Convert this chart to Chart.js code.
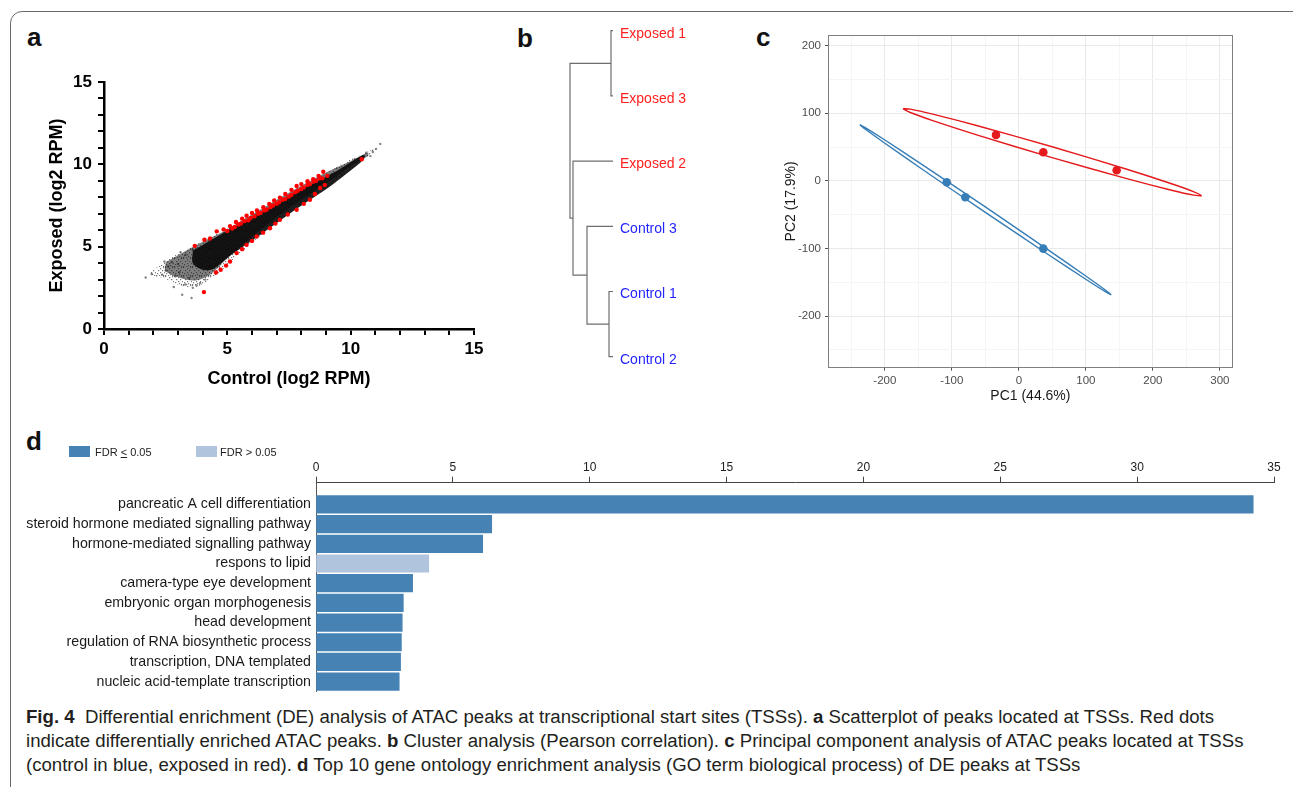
<!DOCTYPE html>
<html>
<head>
<meta charset="utf-8">
<script src="https://cdn.jsdelivr.net/npm/chart.js@4.4.1/dist/chart.umd.min.js"></script>
<style>
  body { margin: 0; background: #fff; width: 1293px; height: 787px; overflow: hidden; position: relative;
         font-family: 'Liberation Sans', Arial, sans-serif; }
  .frame { position: absolute; left: 10px; top: 11px; width: 1330px; height: 830px;
           border: 1.5px solid #6a6a6a; border-top-left-radius: 12px; }
  canvas { position: absolute; }
  .plabel { position: absolute; font: bold 26px 'Liberation Sans', Arial, sans-serif; line-height: 26px; color: #111; }
  .lgbox { position: absolute; width: 21px; height: 11px; }
  .lgtext { position: absolute; font-size: 11px; line-height: 12px; color: #222; }
  .caption { position: absolute; left: 26px; font-size: 17px; line-height: 24px; color: #231f20; white-space: nowrap; }
</style>
</head>
<body>
<div class="frame"></div>

<div class="plabel" style="left:27px;top:24px">a</div>
<div class="plabel" style="left:517px;top:25px">b</div>
<div class="plabel" style="left:756px;top:24px">c</div>
<div class="plabel" style="left:26px;top:428px">d</div>

<canvas id="chartA" width="470" height="345" style="left:30px;top:60px"></canvas>
<canvas id="chartB" width="220" height="390" style="left:540px;top:0px"></canvas>
<canvas id="chartC" width="533" height="390" style="left:760px;top:20px"></canvas>
<canvas id="chartD" width="1293" height="265" style="left:0px;top:440px"></canvas>

<div class="lgbox" style="left:69px;top:446px;background:#4682b4"></div>
<div class="lgtext" style="left:95px;top:446px">FDR <u>&lt;</u> 0.05</div>
<div class="lgbox" style="left:196px;top:446px;background:#b0c4de"></div>
<div class="lgtext" style="left:220px;top:446px">FDR &gt; 0.05</div>

<div class="caption" id="cap1" style="top:705px"><b>Fig. 4</b>&nbsp; Differential enrichment (DE) analysis of ATAC peaks at transcriptional start sites (TSSs). <b>a</b> Scatterplot of peaks located at TSSs. Red dots</div>
<div class="caption" id="cap2" style="top:729px">indicate differentially enriched ATAC peaks. <b>b</b> Cluster analysis (Pearson correlation). <b>c</b> Principal component analysis of ATAC peaks located at TSSs</div>
<div class="caption" id="cap3" style="top:753px">(control in blue, exposed in red). <b>d</b> Top 10 gene ontology enrichment analysis (GO term biological process) of DE peaks at TSSs</div>

<script>
// ---------- panel a: control vs exposed (log2 RPM) ----------
// outline of the sparse grey part of the cloud
const cloudOuter = [[1.9,3.5],[2.5,4.1],[3.0,4.6],[3.7,5.1],[4.5,5.75],[5.5,6.5],[6.5,7.3],[7.5,8.15],[8.5,8.95],[9.5,9.9],[10.3,10.5],[11.0,10.95],
                    [11.0,10.75],[10.3,10.05],[9.5,9.05],[8.5,8.1],[7.5,7.0],[6.5,5.85],[5.5,4.6],[4.8,3.6],[4.2,2.9],[3.6,2.5],[3.0,2.7],[2.4,3.1],[1.9,3.3],[1.9,3.5]];
// outline of the medium-density band
const cloudMid = [[2.5,4.05],[3.2,4.65],[4,5.3],[5,6.05],[6,6.95],[7,7.85],[8,8.7],[9,9.5],[10,10.2],[10.7,10.7],
                  [10.7,10.5],[10,9.9],[9,8.85],[8,7.85],[7,6.8],[6,5.6],[5,4.3],[4.3,3.3],[3.7,2.95],[3.1,3.1],[2.5,3.5],[2.5,4.05]];
// outline of the dense black core
const cloudCore = [[3.6,4.75],[4.0,5.1],[4.57,5.6],[5.78,6.6],[7.13,7.75],[8.48,8.85],[9.43,9.6],[10.24,10.35],[10.55,10.58],
                   [10.55,10.4],[10.38,10.08],[9.84,9.45],[9.16,8.66],[7.81,7.3],[6.46,5.85],[5.11,4.45],[4.43,3.65],[4.0,3.6],[3.6,4.0],[3.6,4.75]];
const greyPeaks = [[1.69,3.13],[1.93,3.34],[2.36,3.3],[2.83,2.55],[3.17,2.08],[3.55,1.88],[3.1,4.67],[11.2,11.24],[11.03,10.94],
                   [10.63,10.71],[2.6,3.8],[2.75,4.05],[2.9,3.2],[3.0,3.95],[3.3,2.7],[3.45,3.1],[2.5,3.55],[3.6,2.5],[3.9,2.8],
                   [4.1,3.0],[3.3,4.5],[3.6,4.8],[10.9,10.75],[10.8,10.5],[2.45,4.1],[3.05,3.45],[3.75,2.65]];
const redPeaks = [
  // above the diagonal
  [3.68,5.05],[4.07,5.42],[4.3,5.5],[4.57,5.93],[4.85,6.05],[5.11,6.25],[5.35,6.5],[5.6,6.7],[5.78,6.88],[6.0,7.05],[6.2,7.2],
  [6.46,7.4],[6.7,7.6],[6.9,7.8],[7.13,7.98],[7.35,8.2],[7.6,8.45],[7.81,8.68],[8.0,8.8],[8.25,8.98],[8.48,9.1],[8.7,9.3],[8.89,9.55],
  [5.0,5.95],[5.3,6.2],[5.55,6.4],[5.85,6.6],[6.1,6.85],[6.35,7.05],[6.6,7.25],[6.85,7.5],[7.1,7.7],[7.35,7.9],[7.6,8.15],[7.85,8.4],
  [8.1,8.6],[8.35,8.8],[8.6,9.0],[8.85,9.15],[9.05,9.3],
  [5.2,6.1],[5.45,6.35],[5.7,6.55],[5.95,6.75],[6.25,7.0],[6.5,7.2],[6.75,7.4],[7.0,7.6],[7.25,7.85],[7.5,8.05],[7.75,8.3],
  [8.0,8.5],[8.25,8.75],[8.5,8.95],[8.75,9.15],
  // below the diagonal
  [4.05,2.24],[4.54,3.43],[4.73,3.6],[4.95,3.85],[5.11,4.1],[5.38,4.61],[5.6,4.85],[5.78,5.11],[6.0,5.35],[6.19,5.62],[6.45,5.85],
  [6.73,6.12],[6.95,6.4],[7.13,6.63],[7.45,6.95],[7.81,7.24],[8.1,7.6],[8.35,7.85],[8.55,8.2],[8.76,8.56],[8.95,8.75],[10.45,10.31]];
const aLabelEvery = 5;

// ---------- panel b: clustering ----------
const leaves = ['Exposed 1', 'Exposed 3', 'Exposed 2', 'Control 3', 'Control 1', 'Control 2'];
const merges = [
  { id: 'M1', a: 'Exposed 1', b: 'Exposed 3', h: 0.02 },
  { id: 'M2', a: 'Control 1', b: 'Control 2', h: 0.04 },
  { id: 'M3', a: 'Control 3', b: 'M2', h: 0.26 },
  { id: 'M4', a: 'Exposed 2', b: 'M3', h: 0.40 },
  { id: 'M5', a: 'M1', b: 'M4', h: 0.43 }
];

// ---------- panel c: PCA ----------
const pcControl = [[-107.6,-2],[-79.8,-24.3],[36.5,-100.3]];
const pcExposed = [[-34.1,68],[36.5,42.3],[146,15.7]];
const ellControl = [[-237.4,83.1],[-228,78.05],[-199.9,60.4],[-143.7,23.66],[-50,-38.6],[43.7,-102.04],[99.9,-140.8],[128,-160.85],
                    [137.4,-168.3],[128,-163.35],[99.9,-145.6],[43.7,-108.96],[-50,-46.6],[-143.7,16.74],[-199.9,55.6],[-228,75.55],[-237.4,83.1]];
const ellExposed = [[-173,106.8],[-161.9,106.1],[-128.5,98.7],[-61.7,81.5],[49.7,50.4],[161.1,17.1],[227.9,-4.3],[261.3,-16.2],
                    [272.4,-21.9],[261.3,-21.2],[227.9,-13.9],[161.1,3.3],[49.7,34.4],[-61.7,67.7],[-128.5,89.1],[-161.9,101.1],[-173,106.8]];
const pcXTicks = [-250,-200,-150,-100,-50,0,50,100,150,200,250,300];
const pcYTicks = [-250,-200,-150,-100,-50,0,50,100,150,200];

// ---------- panel d: GO enrichment ----------
const goTerms = ['pancreatic A cell differentiation', 'steroid hormone mediated signalling pathway', 'hormone-mediated signalling pathway',
                 'respons to lipid', 'camera-type eye development', 'embryonic organ morphogenesis', 'head development',
                 'regulation of RNA biosynthetic process', 'transcription, DNA templated', 'nucleic acid-template transcription'];
const goValues = [34.24, 6.42, 6.09, 4.12, 3.53, 3.19, 3.15, 3.12, 3.09, 3.04];
const goSignificant = [true, true, true, false, true, true, true, true, true, true];

const FONT = "'Liberation Sans', Arial, sans-serif";
const pts = arr => arr.map(p => ({ x: p[0], y: p[1] }));
const base = { responsive: false, animation: false, events: [],
               plugins: { legend: { display: false }, tooltip: { enabled: false } } };

// speckled fill for the sparse edge of the point cloud
function speckle() {
  const c = document.createElement('canvas');
  c.width = 9; c.height = 9;
  const g = c.getContext('2d');
  g.fillStyle = 'rgba(30,30,30,0.6)';
  [[0,0],[4,1],[7,0],[2,3],[6,3],[8,5],[1,6],[4,5],[0,8],[5,7],[3,8],[7,8]].forEach(p => g.fillRect(p[0], p[1], 1.2, 1.2));
  return g.createPattern(c, 'repeat');
}

// panel a (first dataset is drawn on top)
new Chart(document.getElementById('chartA'), {
  type: 'scatter',
  data: { datasets: [
    { data: pts(redPeaks), pointRadius: 2.2, backgroundColor: '#ff0000', borderWidth: 0 },
    { data: pts(cloudCore), showLine: true, fill: 'shape', backgroundColor: 'rgba(8,8,8,0.9)', borderWidth: 0, pointRadius: 0, tension: 0.3 },
    { data: pts(cloudMid), showLine: true, fill: 'shape', backgroundColor: 'rgba(20,20,20,0.55)', borderWidth: 0, pointRadius: 0, tension: 0.3 },
    { data: pts(greyPeaks), pointRadius: 1.2, backgroundColor: 'rgba(80,80,80,0.7)', borderWidth: 0 },
    { data: pts(cloudOuter), showLine: true, fill: 'shape', backgroundColor: speckle(), borderWidth: 0, pointRadius: 0, tension: 0.3 }
  ] },
  options: { ...base,
    layout: { padding: { top: 22, right: 26 } },
    scales: {
      x: { min: 0, max: 15, afterFit: s => { s.height = 76; },
           ticks: { stepSize: 1, autoSkip: false, maxRotation: 0, padding: 4, color: '#000',
                    font: { family: FONT, size: 17, weight: 'bold' },
                    callback: v => (v % aLabelEvery === 0 ? v : '') },
           grid: { drawOnChartArea: false, tickLength: 6, color: '#000', lineWidth: 2 },
           border: { color: '#000', width: 2.5 },
           title: { display: true, text: 'Control (log2 RPM)', color: '#000', padding: { top: 0, bottom: 15 },
                    font: { family: FONT, size: 18, weight: 'bold' } } },
      y: { min: 0, max: 15, afterFit: s => { s.width = 74; },
           ticks: { stepSize: 1, autoSkip: false, padding: 6, color: '#000',
                    font: { family: FONT, size: 17, weight: 'bold' },
                    callback: v => (v % aLabelEvery === 0 ? v : '') },
           grid: { drawOnChartArea: false, tickLength: 6, color: '#000', lineWidth: 2 },
           border: { color: '#000', width: 2.5 },
           title: { display: true, text: 'Exposed (log2 RPM)', color: '#000', padding: { top: 16, bottom: 0 },
                    font: { family: FONT, size: 18, weight: 'bold' } } }
    }
  }
});

// panel b: build dendrogram segments from the merge list
const nodeY = {}, nodeH = {};
leaves.forEach((name, i) => { nodeY[name] = i + 1; nodeH[name] = 0; });
const dendroSets = merges.map(m => {
  nodeY[m.id] = (nodeY[m.a] + nodeY[m.b]) / 2;
  nodeH[m.id] = m.h;
  return {
    data: [{ x: nodeH[m.a], y: nodeY[m.a] }, { x: m.h, y: nodeY[m.a] }, { x: m.h, y: nodeY[m.b] }, { x: nodeH[m.b], y: nodeY[m.b] }],
    showLine: true, borderColor: '#6e6e6e', borderWidth: 1.2, pointRadius: 0, tension: 0, clip: false
  };
});
new Chart(document.getElementById('chartB'), {
  type: 'scatter',
  data: { datasets: dendroSets },
  options: { ...base,
    layout: { padding: { top: 30.7, bottom: 33.3, left: 17 } },
    scales: {
      x: { display: false, reverse: true, min: 0, max: 0.56 },
      y: { position: 'right', reverse: true, min: 1, max: 6, afterFit: s => { s.width = 147; },
           afterBuildTicks: s => { s.ticks = leaves.map((_, i) => ({ value: i + 1 })); },
           grid: { display: false, drawTicks: false }, border: { display: false },
           ticks: { padding: 7, labelOffset: 3, font: { family: FONT, size: 14 },
                    callback: v => leaves[v - 1],
                    color: c => (leaves[c.index] || '').startsWith('Exposed') ? '#ff2020' : '#2424ff' } }
    }
  }
});

// panel c: PCA with group ellipses
const gridCol = c => (c.tick && c.tick.value % 100 === 0 ? '#e9e9e9' : '#f5f5f5');
const tickCol = c => (c.tick && c.tick.value % 100 === 0 ? '#555' : 'rgba(0,0,0,0)');
new Chart(document.getElementById('chartC'), {
  type: 'scatter',
  data: { datasets: [
    { data: pts(pcExposed), pointRadius: 4.3, backgroundColor: '#e41a1c', borderWidth: 0 },
    { data: pts(pcControl), pointRadius: 4.3, backgroundColor: '#377eb8', borderWidth: 0 },
    { data: pts(ellExposed), showLine: true, borderColor: '#e41a1c', borderWidth: 1.4, pointRadius: 0, tension: 0.25 },
    { data: pts(ellControl), showLine: true, borderColor: '#377eb8', borderWidth: 1.4, pointRadius: 0, tension: 0.25 }
  ] },
  options: { ...base,
    layout: { padding: { top: 15, right: 60.2 } },
    scales: {
      x: { min: -284.8, max: 319.3, afterFit: s => { s.height = 42.3; },
           afterBuildTicks: s => { s.ticks = pcXTicks.map(v => ({ value: v })); },
           ticks: { autoSkip: false, maxRotation: 0, padding: 3, color: '#4d4d4d', font: { family: FONT, size: 11.5 },
                    callback: v => (v % 100 === 0 ? v : '') },
           grid: { color: gridCol, tickLength: 3, tickColor: tickCol },
           border: { color: '#7f7f7f', width: 1 },
           title: { display: true, text: 'PC1 (44.6%)', color: '#1a1a1a', padding: { top: 0, bottom: 5 },
                    font: { family: FONT, size: 14 } } },
      y: { min: -276.5, max: 215.8, afterFit: s => { s.width = 68; },
           afterBuildTicks: s => { s.ticks = pcYTicks.map(v => ({ value: v })); },
           ticks: { autoSkip: false, padding: 4, color: '#4d4d4d', font: { family: FONT, size: 11.5 },
                    callback: v => (v % 100 === 0 ? v : '') },
           grid: { color: gridCol, tickLength: 3, tickColor: tickCol },
           border: { color: '#7f7f7f', width: 1 },
           title: { display: true, text: 'PC2 (17.9%)', color: '#1a1a1a', padding: { top: 23, bottom: 0 },
                    font: { family: FONT, size: 14 } } },
      x2: { position: 'top', afterFit: s => { s.height = 0; }, ticks: { display: false },
            grid: { display: false }, border: { color: '#7f7f7f', width: 1 } },
      y2: { position: 'right', afterFit: s => { s.width = 0; }, ticks: { display: false },
            grid: { display: false }, border: { color: '#7f7f7f', width: 1 } }
    }
  }
});

// panel d: GO terms
new Chart(document.getElementById('chartD'), {
  type: 'bar',
  data: { datasets: [{
    data: goValues.map((v, i) => ({ x: v, y: i })),
    backgroundColor: goSignificant.map(s => (s ? '#4682b4' : '#b0c4de')),
    borderWidth: 0, barThickness: 17.5
  }] },
  options: { ...base,
    indexAxis: 'y',
    layout: { padding: { right: 19, bottom: 10.5 } },
    scales: {
      x: { position: 'top', min: 0, max: 35, afterFit: s => { s.height = 42.7; },
           ticks: { stepSize: 5, maxRotation: 0, padding: 2, color: '#222', font: { family: FONT, size: 12 } },
           grid: { drawOnChartArea: false, tickLength: 6, color: '#444' },
           border: { color: '#444', width: 1 } },
      y: { type: 'linear', offset: false, reverse: true, min: -1.105, max: 9.5, afterFit: s => { s.width = 316; },
           afterBuildTicks: s => { s.ticks = goTerms.map((_, i) => ({ value: i })); },
           ticks: { autoSkip: false, padding: 5, color: '#1a1a1a', font: { family: FONT, size: 14.2 },
                    callback: v => goTerms[v] },
           grid: { display: false, drawTicks: false, offset: false },
           border: { color: '#555', width: 1 } }
    }
  }
});

// fit caption font so that line 1 spans the same width as in the figure
const cap1 = document.getElementById('cap1');
const fit = 17 * 1189 / cap1.getBoundingClientRect().width;
['cap1', 'cap2', 'cap3'].forEach(id => { document.getElementById(id).style.fontSize = fit + 'px'; });
</script>
</body>
</html>
